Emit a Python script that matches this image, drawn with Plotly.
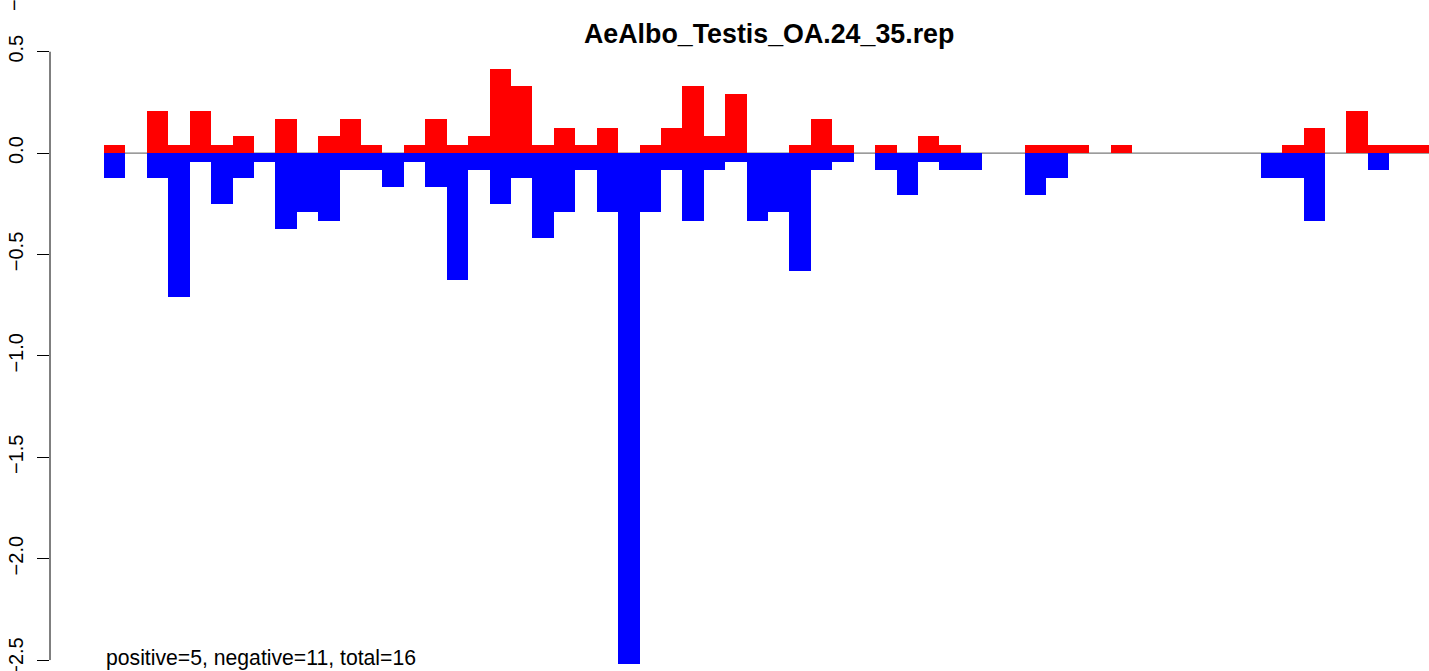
import plotly.graph_objects as go

# Bar index (each bar spans [k, k+1])
bins = list(range(62))

# Positive (red) values
pos_vals = [0.042, 0, 0.208, 0.042, 0.208, 0.042, 0.083, 0, 0.167, 0, 0.083,
            0.167, 0.042, 0, 0.042, 0.167, 0.042, 0.083, 0.417, 0.333, 0.042,
            0.125, 0.042, 0.125, 0, 0.042, 0.125, 0.333, 0.083, 0.292, 0, 0,
            0.042, 0.167, 0.042, 0, 0.042, 0, 0.083, 0.042, 0, 0, 0,
            0.042, 0.042, 0.042, 0, 0.042, 0, 0, 0, 0, 0, 0,
            0, 0.042, 0.125, 0, 0.208, 0.042, 0.042, 0.042]

# Negative (blue) values
neg_vals = [-0.125, 0, -0.125, -0.708, -0.042, -0.25, -0.125, -0.042, -0.375, -0.292, -0.333,
            -0.083, -0.083, -0.167, -0.042, -0.167, -0.625, -0.083, -0.25, -0.125, -0.417,
            -0.292, -0.083, -0.292, -2.52, -0.292, -0.083, -0.333, -0.083, -0.042, -0.333, -0.292,
            -0.583, -0.083, -0.042, 0, -0.083, -0.208, -0.042, -0.083, -0.083, 0, 0,
            -0.208, -0.125, 0, 0, 0, 0, 0, 0, 0, 0, 0,
            -0.125, -0.125, -0.333, 0, 0, -0.083, 0, 0]

ytick_vals = [0.5, 0.0, -0.5, -1.0, -1.5, -2.0, -2.5]
ytick_text = ["0.5", "0.0", "\u22120.5", "\u22121.0", "\u22121.5", "\u22122.0", "\u22122.5"]

title_text = "AeAlbo_Testis_OA.24_35.rep"
footer_text = "positive=5, negative=11, total=16"

FONT = "Liberation Sans, Arial, Helvetica, sans-serif"
W, H = 1429, 671
ML = 50
PW = W - ML

centers = [b + 0.5 for b in bins]

fig = go.Figure()
fig.add_trace(go.Bar(x=centers, y=pos_vals, width=1.0, marker=dict(color="#FF0000", line=dict(width=0)),
                     hoverinfo="x+y", showlegend=False))
fig.add_trace(go.Bar(x=centers, y=neg_vals, width=1.0, marker=dict(color="#0000FF", line=dict(width=0)),
                     hoverinfo="x+y", showlegend=False))

# zero reference line (below bars)
fig.add_shape(type="line", xref="x", yref="y", x0=0, x1=70, y0=0, y1=0,
              line=dict(color="#5a5a5a", width=1), layer="below")
# y axis line spanning only the tick range (R style)
fig.add_shape(type="line", xref="paper", yref="y", x0=0, x1=0, y0=0.5, y1=-2.5,
              line=dict(color="black", width=1), layer="above")

fig.add_annotation(text="<b>" + title_text + "</b>", xref="paper", yref="paper",
                   x=(768.5 - ML) / PW, y=1 - 34 / H, xanchor="center", yanchor="middle",
                   showarrow=False, font=dict(family=FONT, size=26.8, color="black"))
fig.add_annotation(text=footer_text, xref="x", yref="paper",
                   x=0, y=1 - 658 / H, xanchor="left", yanchor="middle",
                   showarrow=False, font=dict(family=FONT, size=21.2, color="black"))
# partial rotated label fragment visible at the very top-left edge
fig.add_annotation(text="\u2212", xref="paper", yref="paper",
                   x=(14 - ML) / PW, y=1 - 5 / H, xanchor="center", yanchor="middle",
                   textangle=-90, showarrow=False, font=dict(family=FONT, size=20, color="black"))

fig.update_layout(
    width=W, height=H,
    margin=dict(l=ML, r=0, t=0, b=0, pad=0, autoexpand=False),
    plot_bgcolor="white", paper_bgcolor="white",
    barmode="overlay", bargap=0,
    showlegend=False,
    xaxis=dict(range=[-2.521, 61.858], visible=False, fixedrange=True, automargin=False),
    yaxis=dict(range=[-2.554, 0.755], tickmode="array", tickvals=ytick_vals, ticktext=ytick_text,
               tickangle=-90, ticks="outside", ticklen=12, tickwidth=1, tickcolor="black",
               ticklabeloverflow="allow", ticklabelstandoff=6,
               showgrid=False, zeroline=False, showline=False, fixedrange=True, automargin=False,
               tickfont=dict(family=FONT, size=20, color="black")),
)

fig.write_html("out.html", config={"displayModeBar": False},
               post_script="document.body.style.margin='0px';document.body.style.overflow='hidden';")
